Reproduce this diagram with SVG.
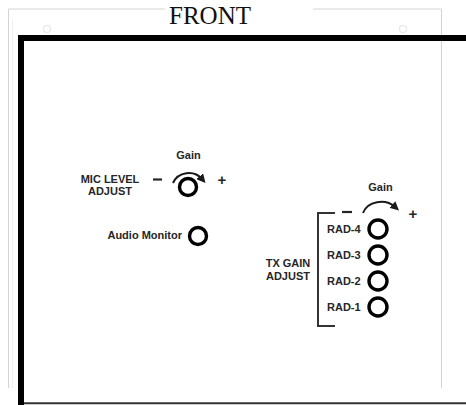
<svg xmlns="http://www.w3.org/2000/svg" width="466" height="405" viewBox="0 0 466 405">
<defs>
<style>
.lbl{font-family:"Liberation Sans",Arial,sans-serif;font-weight:bold;font-size:11px;fill:#262626}
.sign{font-family:"Liberation Sans",Arial,sans-serif;font-weight:bold;font-size:15px;fill:#262626}
.knob{fill:#fff;stroke:#000;stroke-width:3.4}
.arc{fill:none;stroke:#1a1a1a;stroke-width:2}
.frame{fill:none;stroke:#d4d4d4;stroke-width:1}
</style>
<marker id="ah" viewBox="0 0 10 10" refX="4" refY="5" markerWidth="9" markerHeight="9" markerUnits="userSpaceOnUse" orient="auto">
<path d="M0,0 L10,5 L0,10 z" fill="#1a1a1a"/>
</marker>
</defs>
<rect width="466" height="405" fill="#fff"/>
<g id="outer-frame">
<polyline class="frame" points="165,9 8.5,9 8.5,388"/>
<polyline class="frame" points="313,9 441.5,9 441.5,388"/>
<line x1="12.5" y1="20" x2="12.5" y2="388" stroke="#eeeeee" stroke-width="1"/>
<circle cx="47" cy="29" r="3.5" fill="none" stroke="#e6e6e6" stroke-width="1.2"/>
<circle cx="403" cy="29" r="3.5" fill="none" stroke="#e6e6e6" stroke-width="1.2"/>
<text x="210" y="24" font-family="'Liberation Serif','Times New Roman',serif" font-size="25" text-anchor="middle" fill="#111">FRONT</text>
</g>
<g id="panel">
<polyline points="466,38 21,38 21,405" fill="none" stroke="#000" stroke-width="6"/>
<line x1="24" y1="403.2" x2="466" y2="403.2" stroke="#333" stroke-width="2"/>
</g>
<g id="mic-level">
<text class="lbl" x="110" y="183" text-anchor="middle">MIC LEVEL</text>
<text class="lbl" x="110" y="195" text-anchor="middle">ADJUST</text>
<text class="lbl" x="188.5" y="159" text-anchor="middle">Gain</text>
<line x1="153" y1="179.5" x2="162" y2="179.5" stroke="#262626" stroke-width="2.2"/>
<text class="sign" x="222" y="185" text-anchor="middle">+</text>
<path class="arc" d="M173,183 A17,16 0 0 1 202,179" marker-end="url(#ah)"/>
<circle class="knob" cx="188" cy="187" r="8.5"/>
</g>
<g id="audio-monitor">
<text class="lbl" x="182" y="239" text-anchor="end">Audio Monitor</text>
<circle class="knob" cx="198" cy="236" r="8.5"/>
</g>
<g id="tx-gain">
<text class="lbl" x="288" y="267" text-anchor="middle">TX GAIN</text>
<text class="lbl" x="288" y="280" text-anchor="middle">ADJUST</text>
<polyline points="335,213 318,213 318,326 335,326" fill="none" stroke="#333" stroke-width="2"/>
<text class="lbl" x="380.5" y="191" text-anchor="middle">Gain</text>
<line x1="342" y1="212" x2="352" y2="212" stroke="#262626" stroke-width="2.2"/>
<text class="sign" x="413" y="219" text-anchor="middle">+</text>
<path class="arc" d="M363,213 A19,16 0 0 1 395,207" marker-end="url(#ah)"/>
</g>
<g id="rad-4">
<text class="lbl" x="327" y="233">RAD-4</text>
<circle class="knob" cx="378" cy="229" r="9"/>
</g>
<g id="rad-3">
<text class="lbl" x="327" y="259">RAD-3</text>
<circle class="knob" cx="378" cy="255" r="9"/>
</g>
<g id="rad-2">
<text class="lbl" x="327" y="285">RAD-2</text>
<circle class="knob" cx="378" cy="281" r="9"/>
</g>
<g id="rad-1">
<text class="lbl" x="327" y="311">RAD-1</text>
<circle class="knob" cx="378" cy="307" r="9"/>
</g>
</svg>
